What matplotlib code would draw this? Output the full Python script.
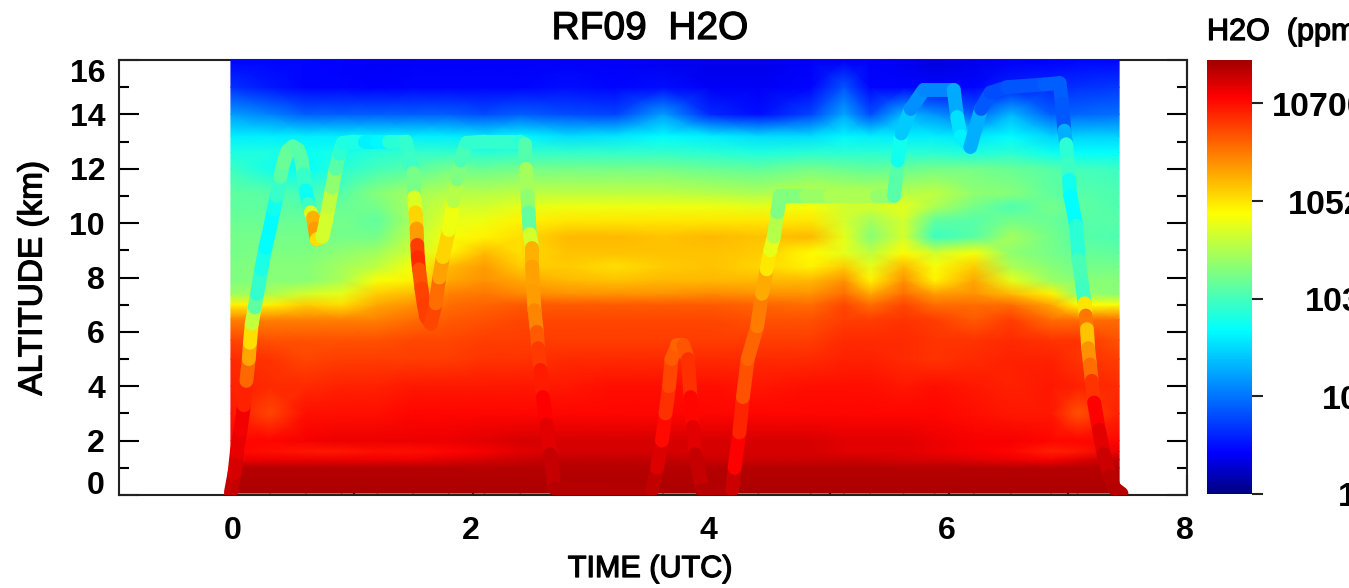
import matplotlib
matplotlib.use('Agg')
import matplotlib.pyplot as plt
import matplotlib.patheffects as pe
from matplotlib.collections import LineCollection
from matplotlib.colors import LogNorm, LinearSegmentedColormap
from matplotlib.cm import ScalarMappable
from matplotlib.ticker import FixedLocator, NullFormatter
from matplotlib.transforms import ScaledTranslation
import numpy as np

W, H = 1349, 588
H2O_MAX = 30000.0

# curtain columns (UTC) and rows (km)
time_utc = [-0.03, 0.3, 0.6, 0.9, 1.2, 1.5, 1.8, 2.1, 2.4, 2.8, 3.2, 3.6, 4.0, 4.4,
            4.84, 5.12, 5.34, 5.62, 5.88, 6.21, 6.52, 6.86, 7.08, 7.43]
alt_km = [0.07, 1.0, 1.3, 1.6, 2, 3, 4, 5, 5.7, 6.45, 7.0, 7.4, 7.9, 8.4, 8.9, 9.5, 10.1, 10.6, 11.1,
          12, 12.6, 13.2, 14, 15, 16]

# position on the log colour scale, one list per altitude row
row_00 = [.99] * 24
row_10 = [.98] * 24
row_13 = [.93, .93, .93, .93, .93, .93, .94, .95, .96, .97, .97, .97, .96, .96,
          .96, .96, .96, .95, .95, .94, .93, .92, .94, .97]
row_16 = [.91, .90, .89, .89, .90, .90, .91, .92, .94, .95, .95, .95, .95, .95,
          .95, .94, .94, .94, .93, .92, .91, .88, .89, .93]
row_20 = [.91, .91, .92, .93, .93, .93, .93, .94, .95, .95, .95, .95, .95, .95,
          .95, .94, .94, .94, .93, .92, .92, .91, .91, .91]
row_30 = [.89, .84, .90, .90, .90, .91, .91, .91, .91, .91, .91, .91, .91, .91,
          .91, .91, .91, .91, .91, .90, .89, .89, .83, .88]
row_40 = [.88, .87, .87, .88, .88, .89, .89, .89, .89, .89, .90, .90, .90, .89,
          .90, .90, .90, .89, .90, .89, .88, .89, .88, .87]
row_50 = [.87, .86, .84, .85, .85, .85, .85, .86, .86, .87, .87, .87, .87, .87,
          .87, .88, .88, .87, .86, .87, .88, .88, .86, .85]
row_57 = [.84, .83, .83, .83, .83, .84, .84, .85, .85, .85, .85, .85, .85, .85,
          .85, .87, .87, .87, .86, .86, .87, .86, .86, .83]
row_645 = [.78, .78, .78, .78, .78, .80, .82, .83, .84, .84, .84, .84, .84, .83,
           .83, .85, .85, .86, .85, .82, .85, .80, .80, .80]
row_70 = [.66, .66, .70, .68, .74, .76, .80, .81, .82, .82, .82, .82, .82, .81,
          .80, .84, .80, .84, .80, .80, .80, .74, .65, .64]
row_74 = [.54, .56, .60, .62, .70, .72, .78, .79, .77, .76, .76, .76, .77, .76,
          .76, .80, .74, .80, .75, .76, .72, .66, .54, .52]
row_79 = [.51, .52, .52, .56, .64, .66, .74, .76, .74, .72, .71, .72, .72, .72,
          .72, .76, .66, .76, .66, .74, .62, .54, .52, .52]
row_84 = [.51, .52, .52, .55, .58, .64, .72, .75, .70, .70, .68, .70, .71, .69,
          .66, .70, .62, .72, .64, .70, .56, .52, .50, .50]
row_89 = [.50, .51, .51, .53, .55, .60, .66, .72, .68, .71, .71, .71, .71, .70,
          .65, .62, .58, .65, .60, .64, .53, .50, .49, .48]
row_95 = [.50, .50, .50, .50, .50, .58, .64, .66, .68, .72, .72, .71, .72, .71,
          .72, .62, .52, .60, .44, .47, .55, .50, .47, .46]
row_101 = [.49, .49, .49, .50, .48, .56, .62, .63, .66, .67, .67, .67, .67, .67,
           .67, .60, .55, .60, .48, .47, .50, .49, .47, .47]
row_106 = [.48, .48, .47, .49, .50, .56, .60, .60, .62, .63, .63, .63, .63, .62,
           .64, .60, .60, .62, .56, .50, .46, .50, .48, .46]
row_111 = [.48, .47, .45, .47, .52, .55, .57, .57, .58, .58, .58, .58, .57, .56,
           .58, .57, .57, .57, .58, .53, .52, .48, .47, .46]
row_120 = [.44, .40, .38, .42, .45, .47, .50, .49, .50, .50, .50, .50, .49, .48,
           .50, .49, .48, .49, .50, .50, .49, .47, .45, .44]
row_126 = [.41, .41, .39, .40, .42, .43, .43, .42, .43, .43, .43, .43, .42, .41,
           .42, .42, .42, .42, .42, .41, .42, .39, .38, .38]
row_132 = [.36, .36, .36, .36, .36, .36, .36, .35, .37, .34, .35, .375, .36, .34,
           .34, .37, .36, .36, .36, .35, .375, .33, .33, .33]
row_140 = [.27, .24, .20, .20, .20, .20, .20, .18, .20, .18, .17, .27, .14, .11,
           .17, .28, .18, .30, .26, .20, .30, .20, .21, .22]
row_150 = [.15, .12, .10, .10, .095, .10, .10, .10, .10, .11, .10, .11, .09, .09,
           .10, .19, .10, .10, .10, .10, .13, .14, .15, .16]
row_160 = [.10, .10, .10, .095, .09, .09, .09, .09, .09, .09, .09, .085, .08, .08,
           .09, .09, .09, .085, .07, .08, .09, .095, .10, .10]

# flight track
track_t = [-0.03, 0.0, 0.02, 0.05, 0.08, 0.10, 0.12, 0.13, 0.145, 0.17, 0.19, 0.225, 0.26, 0.30, 0.33, 0.355,
           0.385, 0.41, 0.445, 0.49, 0.535, 0.565, 0.58, 0.60, 0.62, 0.64, 0.66, 0.675, 0.69, 0.74, 0.77, 0.79,
           0.82, 0.85, 0.88, 0.91, 1.0, 1.1, 1.2, 1.3, 1.44, 1.47, 1.5, 1.51, 1.52, 1.53, 1.535, 1.54, 1.55,
           1.57, 1.59, 1.61, 1.65, 1.69, 1.72, 1.75, 1.8, 1.84, 1.87, 1.9, 1.95, 2.1, 2.4, 2.44, 2.45, 2.46,
           2.47, 2.48, 2.5, 2.5, 2.51, 2.52, 2.54, 2.55, 2.57, 2.59, 2.62, 2.65, 2.69, 3.1, 3.51, 3.55, 3.59,
           3.62, 3.65, 3.67, 3.72, 3.77, 3.81, 3.83, 3.85, 3.87, 3.93, 4.18, 4.2, 4.24, 4.27, 4.31, 4.39, 4.43,
           4.47, 4.5, 4.53, 4.56, 4.58, 4.8, 5.0, 5.2, 5.4, 5.54, 5.57, 5.6, 5.68, 5.79, 6.04, 6.07, 6.1, 6.18,
           6.27, 6.35, 6.49, 6.8, 6.93, 6.95, 6.97, 6.985, 7.0, 7.01, 7.02, 7.07, 7.09, 7.12, 7.14, 7.15, 7.16,
           7.17, 7.185, 7.2, 7.22, 7.26, 7.3, 7.35, 7.39, 7.45]
track_alt = [0.1, 0.8, 1.6, 2.4, 3.3, 4.2, 5.0, 5.6, 6.3, 6.9, 7.4, 8.3, 9.1, 9.85, 10.5, 11.0,
             11.7, 12.2, 12.65, 12.82, 12.7, 12.3, 11.8, 11.2, 10.7, 10.4, 10.2, 9.8, 9.4, 9.5, 10.1, 10.6,
             11.3, 12.0, 12.55, 12.95, 13, 13, 13, 13, 13, 12.4, 11.85, 10.95, 10.4, 9.8, 9.2, 8.75, 8.3,
             7.6, 7.0, 6.55, 6.3, 7.05, 8.0, 8.75, 9.75, 10.8, 11.6, 12.3, 12.95, 13, 13, 12.9, 12, 11,
             10.4, 9.6, 9.1, 8.4, 7.5, 6.8, 6, 5.4, 4.6, 3.6, 2.6, 1.5, 0.25, 0.2, 0.2, 1, 2,
             3, 4, 5, 5.5, 5.5, 5, 3.6, 2.5, 1.5, 0.2, 0.2, 1, 2.3, 3.6, 5, 6.2, 7.4,
             8.3, 9, 9.5, 10.4, 11, 11, 11, 11, 11, 11, 12.3, 13.3, 14.2, 14.9, 14.9, 13.9, 13.2, 12.8,
             14.2, 14.8, 15, 15.1, 15.15, 14.4, 13.4, 12.9, 12.2, 11.6, 11, 9.9, 8.65, 7.7, 7.05, 6.6, 6.1,
             5.4, 4.8, 4.2, 3.4, 2.4, 1.5, 0.7, 0.25, 0.05]
track_frac = [.97, .96, .94, .93, .92, .84, .77, .71, .65, .52, .44, .42, .39, .37, .38, .41,
              .46, .49, .49, .48, .47, .47, .47, .40, .38, .50, .72, .74, .76, .60, .60, .60,
              .56, .50, .44, .41, .41, .40, .33, .41, .43, .43, .45, .56, .66, .72, .78, .92, .82,
              .84, .85, .85, .85, .83, .77, .72, .66, .60, .54, .48, .43, .43, .43, .41, .52, .58,
              .48, .48, .72, .74, .75, .75, .80, .84, .87, .90, .93, .95, .98, .98, .98, .96, .93,
              .88, .85, .83, .81, .81, .84, .89, .93, .95, .98, .98, .94, .89, .86, .80, .82, .75,
              .72, .62, .62, .52, .50, .53, .55, .57, .55, .52, .42, .37, .27, .24, .25, .32, .37, .36,
              .22, .17, .19, .19, .21, .19, .20, .38, .47, .41, .38, .375, .47, .44, .45, .90, .68,
              .74, .78, .82, .90, .93, .95, .97, .98, .98]

xticks_major = [0, 2, 4, 6, 8]
xticks_minor = [1, 3, 5, 7]
yticks_major = [0, 2, 4, 6, 8, 10, 12, 14, 16]
yticks_minor = [1, 3, 5, 7, 9, 11, 13, 15]
cbar_values = [1, 10.17, 103.5, 1052, 10700]
cbar_labels = ['1', '10', '103', '1052', '10700']
cbar_label_px = [1338, 1322, 1305, 1288, 1272]

plt.rcParams['font.family'] = ['Liberation Sans', 'DejaVu Sans']


def px_axes(left, top, right, bottom):
    return [left / W, 1 - bottom / H, (right - left) / W, (bottom - top) / H]


def nudge(label, dx, dy):
    # shift a tick label by screen pixels
    label.set_transform(label.get_transform() + ScaledTranslation(dx / 100, dy / 100, fig.dpi_scale_trans))


# rainbow as on the reference colour bar
rainbow = LinearSegmentedColormap.from_list('rainbow_bar', [
    (0.0, (0, 0, 0.5)), (0.095, (0, 0, 1)), (0.378, (0, 1, 1)),
    (0.647, (1, 1, 0)), (0.915, (1, 0, 0)), (1.0, (0.63, 0, 0))], N=512)

fig = plt.figure(figsize=(W / 100, H / 100), dpi=100)
ax = fig.add_axes(px_axes(119, 60, 1187, 495))
norm = LogNorm(vmin=1, vmax=H2O_MAX)

frac = np.array([row_00, row_10, row_13, row_16, row_20, row_30, row_40, row_50, row_57, row_645, row_70,
                 row_74, row_79, row_84, row_89, row_95, row_101, row_106, row_111, row_120, row_126,
                 row_132, row_140, row_150, row_160])
ppmv = H2O_MAX ** frac
ax.pcolormesh(time_utc, alt_km, ppmv, cmap=rainbow, norm=norm, shading='gouraud', zorder=3)

pts = np.column_stack([track_t, track_alt])
segs = np.stack([pts[:-1], pts[1:]], axis=1)
seg_val = H2O_MAX ** ((np.array(track_frac[:-1]) + np.array(track_frac[1:])) / 2)
lc = LineCollection(segs, cmap=rainbow, norm=norm, linewidths=10.0, capstyle='round', zorder=4)
lc.set_array(seg_val)
ax.add_collection(lc)

ax.set_xlim(-0.97, 8.0)
ax.set_ylim(0, 16)
ax.xaxis.set_major_locator(FixedLocator(xticks_major))
ax.xaxis.set_minor_locator(FixedLocator(xticks_minor))
ax.yaxis.set_major_locator(FixedLocator(yticks_major))
ax.yaxis.set_minor_locator(FixedLocator(yticks_minor))
ax.xaxis.set_minor_formatter(NullFormatter())
ax.tick_params(which='major', direction='in', length=14.5, width=1.5, top=True, right=True,
               labelsize=23, pad=15)
ax.tick_params(which='minor', direction='in', length=7.2, width=1.5, top=True, right=True)
ax.tick_params(axis='y', which='major', pad=10)
for lab in ax.get_xticklabels() + ax.get_yticklabels():
    lab.set_fontweight('bold')
for lab in ax.get_xticklabels():
    nudge(lab, -2, 0)
nudge(ax.get_yticklabels()[0], 0, 12)
nudge(ax.get_yticklabels()[-1], 0, -10)
for s in ax.spines.values():
    s.set_linewidth(1.5)
    s.set_color('#222222')

stroke = [pe.withStroke(linewidth=0.9, foreground='black')]
fig.text(650 / W, 1 - 29 / H, 'RF09  H2O', fontsize=28, ha='center', va='center', path_effects=stroke)
fig.text(650 / W, 1 - 569 / H, 'TIME (UTC)', fontsize=22, ha='center', va='center', path_effects=stroke)
fig.text(33 / W, 1 - 278 / H, 'ALTITUDE (km)', fontsize=24, rotation=90, ha='center', va='center',
         path_effects=stroke)
fig.text(1207 / W, 1 - 32 / H, 'H2O  (ppmv)', fontsize=22, ha='left', va='center', path_effects=stroke)

cax = fig.add_axes(px_axes(1207, 60, 1252, 494))
cb = fig.colorbar(ScalarMappable(norm=norm, cmap=rainbow), cax=cax)
cb.outline.set_visible(False)
cb.set_ticks(cbar_values)
cb.set_ticklabels([''] * len(cbar_values))
cax.minorticks_off()
cax.tick_params(which='major', direction='out', length=8, width=1.5, color='#222222')
for val, lab, xp in zip(cbar_values, cbar_labels, cbar_label_px):
    cax.annotate(lab, xy=(0, val), xycoords=cax.get_yaxis_transform(),
                 xytext=(xp - 1207, -4), textcoords='offset pixels',
                 ha='left', va='center', fontsize=24.5, fontweight='bold', annotation_clip=False)

fig.savefig('out.png', dpi=100)
